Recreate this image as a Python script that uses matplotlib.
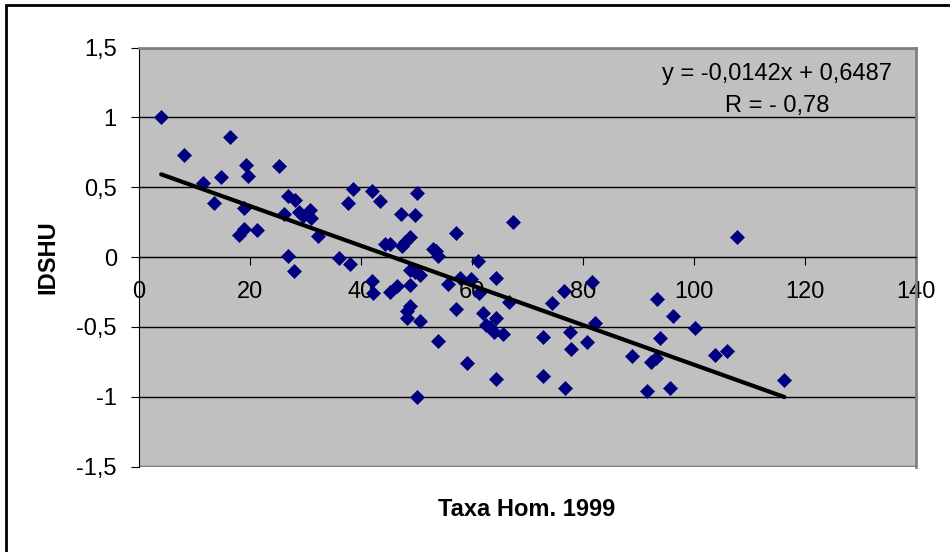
import matplotlib.pyplot as plt
from matplotlib.patches import Rectangle
from matplotlib.ticker import FuncFormatter
import numpy as np

plt.rcParams['font.family'] = ['Liberation Sans', 'DejaVu Sans']

# Taxa de homicidios 1999 x IDSHU
taxa_hom = [4.0, 8.1, 11.5, 13.6, 14.8, 16.4, 18.0, 19.0, 19.0, 19.3, 19.6, 21.3,
            25.2, 26.2, 26.8, 26.9, 28.0, 28.1, 28.8, 29.6, 30.8, 31.0, 32.3,
            36.1, 37.7, 38.1, 38.5, 42.0, 41.9, 42.2, 43.4, 44.3, 45.2, 45.3,
            46.4, 47.2, 47.3, 47.9, 48.8, 48.8, 48.8, 48.8, 48.2, 48.3, 49.7,
            50.1, 49.7, 50.6, 50.6, 50.1, 53.0, 53.5, 53.9, 53.8, 55.6, 57.1,
            57.1, 57.8, 59.1, 59.8, 61.0, 61.3, 61.9, 62.5, 63.2, 64.0, 64.4,
            64.4, 64.4, 65.6, 66.7, 67.3, 72.8, 72.8, 74.5, 76.5, 76.8, 77.7,
            77.8, 80.7, 81.7, 82.2, 88.9, 91.6, 92.3, 93.1, 93.4, 93.9, 95.7,
            96.2, 100.2, 103.8, 106.0, 107.7, 116.3]
idshu = [1.00, 0.73, 0.53, 0.39, 0.57, 0.86, 0.16, 0.20, 0.35, 0.66, 0.58, 0.19,
         0.65, 0.31, 0.44, 0.01, -0.10, 0.41, 0.32, 0.29, 0.34, 0.28, 0.15,
         -0.01, 0.39, -0.05, 0.49, 0.47, -0.17, -0.26, 0.40, 0.09, 0.09, -0.25,
         -0.21, 0.31, 0.08, 0.11, 0.14, -0.09, -0.20, -0.35, -0.39, -0.44, 0.30,
         0.46, -0.11, -0.13, -0.46, -1.00, 0.06, 0.04, 0.01, -0.60, -0.19, 0.17,
         -0.37, -0.15, -0.76, -0.16, -0.03, -0.26, -0.40, -0.49, -0.50, -0.54, -0.15,
         -0.44, -0.87, -0.55, -0.32, 0.25, -0.57, -0.85, -0.33, -0.24, -0.94, -0.54,
         -0.66, -0.61, -0.18, -0.47, -0.71, -0.96, -0.75, -0.72, -0.30, -0.58, -0.94,
         -0.42, -0.51, -0.70, -0.67, 0.14, -0.88]

slope = -0.0142
intercept = 0.6487
equation = "y = -0,0142x + 0,6487"
r_text = "R = - 0,78"

fig = plt.figure(figsize=(9.5, 5.52), dpi=100)
ax = fig.add_axes([139/950, 1 - 466.5/552, (916 - 139)/950, (466.5 - 47.5)/552])

ax.set_facecolor('#C0C0C0')
ax.set_xlim(0, 140)
ax.set_ylim(-1.5, 1.5)
ax.set_xticks(range(0, 141, 20))
ax.set_yticks(np.arange(-1.5, 1.51, 0.5))
comma = FuncFormatter(lambda v, p: f"{v:g}".replace('.', ','))
ax.xaxis.set_major_formatter(comma)
ax.yaxis.set_major_formatter(comma)

ax.set_axisbelow(True)
ax.grid(axis='y', color='black', lw=1)
ax.grid(axis='x', visible=False)

ax.spines['bottom'].set_position(('data', 0))
ax.spines['bottom'].set_color('black')
ax.spines['left'].set_color('black')
for s in ['top', 'right']:
    ax.spines[s].set_color('#808080')
    ax.spines[s].set_linewidth(2)
ax.axhline(-1.5, color='#808080', lw=2.5, zorder=2)

ax.tick_params(axis='x', direction='out', length=6, pad=11, labelsize=17, color='black')
ax.tick_params(axis='y', direction='out', length=6, pad=10, labelsize=17, color='black')

ax.plot(taxa_hom, idshu, linestyle='none', marker='D', ms=7, color='#000080',
        mec='#000080', mew=0.5, zorder=3, clip_on=False)

xl = np.array([min(taxa_hom), max(taxa_hom)])
ax.plot(xl, slope * xl + intercept, color='black', lw=3, zorder=4, solid_capstyle='round')

fig.text(777/950, 1 - 74/552, equation, ha='center', va='center', fontsize=17)
fig.text(777/950, 1 - 106/552, r_text, ha='center', va='center', fontsize=17)

ax.set_ylabel("IDSHU", fontsize=17, fontweight='bold')
ax.yaxis.set_label_coords(-0.102, 0.5)
fig.text(527/950, 1 - 509/552, "Taxa Hom. 1999", ha='center', va='center',
         fontsize=17, fontweight='bold')

fig.add_artist(Rectangle((6/950, -0.05), 1.0, 1 - 5/552 + 0.05, transform=fig.transFigure,
                         fill=False, lw=2, ec='black'))

fig.savefig("out.png", dpi=100)
